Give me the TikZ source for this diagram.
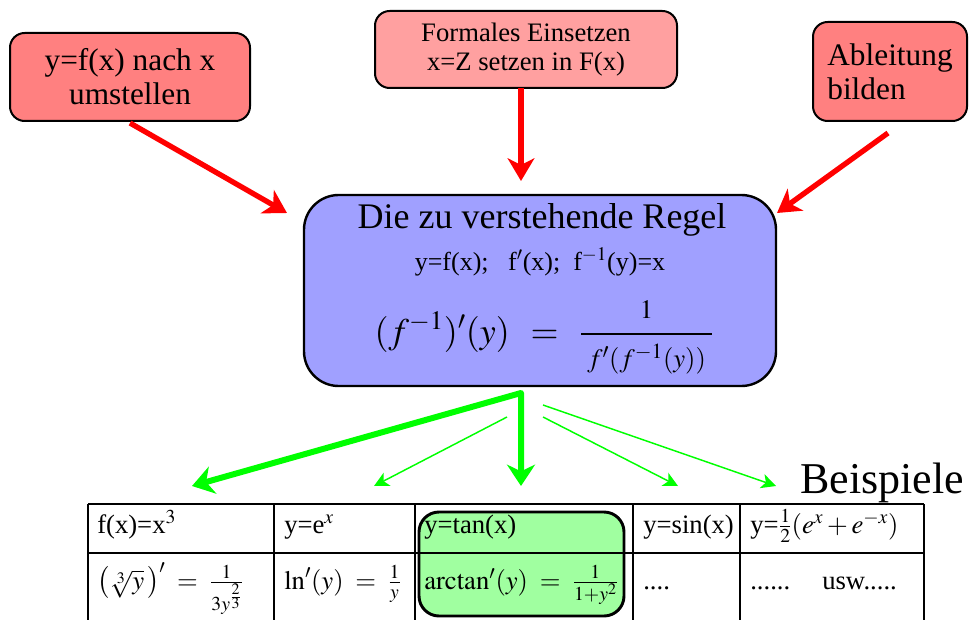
\documentclass[tikz,border=0pt]{standalone}
\usepackage{mathptmx}
\usepackage[no-math]{fontspec}
\setmainfont{Liberation Serif}
\usetikzlibrary{arrows.meta}
\definecolor{boxred}{RGB}{255,128,128}
\definecolor{boxpink}{RGB}{255,160,160}
\definecolor{boxblue}{RGB}{160,160,255}
\definecolor{boxgreen}{RGB}{160,255,160}
\definecolor{arrred}{RGB}{255,0,0}
\definecolor{arrgreen}{RGB}{0,255,0}
\newcommand{\fsz}[2]{\fontsize{#1pt}{#2pt}\selectfont}
\begin{document}
\begin{tikzpicture}[x=0.75pt,y=-0.75pt,
  topbox/.style={draw=black, line width=1.5pt, rounded corners=11pt, inner sep=0pt, align=center},
  redarrow/.style={draw=arrred, line width=4pt, -{Stealth[length=17pt,width=20pt,inset=5pt]}},
  greenthick/.style={draw=arrgreen, line width=4.5pt, line join=round,
     {Stealth[length=16pt,width=21pt,inset=5pt]}-{Stealth[length=16pt,width=21pt,inset=5pt]}},
  greenthin/.style={draw=arrgreen, line width=1.1pt, -{Stealth[length=11pt,width=11pt,inset=3pt]}},
  celltext/.style={anchor=base west, inner sep=0pt, font=\fsz{20}{24}},
  tableline/.style={draw=black, line width=0.8pt}]

\useasboundingbox (0,0) rectangle (969,620);

% top boxes
\node[topbox, fill=boxred, minimum width=180pt, minimum height=66pt, font=\fsz{23.5}{25.5}] (lbox) at (130,77) {y=f(x) nach x\\umstellen};
\node[topbox, fill=boxpink, minimum width=226.5pt, minimum height=57.75pt, font=\fsz{20}{21.75}] (tbox) at (526,49.5) {Formales Einsetzen\\x=Z setzen in F(x)};
\node[topbox, fill=boxred, minimum width=115.5pt, minimum height=74.25pt, font=\fsz{23.5}{25.5}, align=left] (rbox) at (890,71.5) {Ableitung\\bilden};

% central rule box
\node[draw=black, line width=1.8pt, fill=boxblue, rounded corners=26pt, minimum width=354pt, minimum height=143.25pt, inner sep=0pt] (rule) at (540,290.5) {};
\node[anchor=base, inner sep=0pt, font=\fsz{27}{30}] (title) at (542,228) {Die zu verstehende Regel};
\node[anchor=base, inner sep=0pt, font=\fsz{19.5}{22}] (sub) at (540,270) {y=f(x);\ \ \ f$'$(x);\ \ f$^{-1}$(y)=x};
\node[anchor=base, inner sep=0pt, font=\fsz{27}{30}] (formula) at (544,343) {$(f^{-1})'(y)\ \,=\ \,{\displaystyle\frac{\scriptstyle 1}{\scriptstyle \;f'(f^{-1}(y))\;}}$};

% red arrows
\coordinate (r1s) at (130,123);
\coordinate (r1e) at (287,213);
\coordinate (r2s) at (521,88);
\coordinate (r2e) at (521,181);
\coordinate (r3s) at (888,133);
\coordinate (r3e) at (777,213);
\draw[redarrow] (r1s) -- (r1e);
\draw[redarrow] (r2s) -- (r2e);
\draw[redarrow] (r3s) -- (r3e);

% green arrows
\coordinate (g0) at (521,393);
\coordinate (g1) at (192,486);
\coordinate (g2) at (521,486);
\draw[greenthick] (g1) -- (g0) -- (g2);
\coordinate (h1s) at (507,417);
\coordinate (h1e) at (374,486);
\coordinate (h2s) at (543,417);
\coordinate (h2e) at (678,486);
\coordinate (h3s) at (543,405);
\coordinate (h3e) at (776,486);
\draw[greenthin] (h1s) -- (h1e);
\draw[greenthin] (h2s) -- (h2e);
\draw[greenthin] (h3s) -- (h3e);

\node[anchor=base west, inner sep=0pt, font=\fsz{33}{38}] (bsp) at (800,493) {Beispiele};

% highlight box
\node[draw=black, line width=2.2pt, fill=boxgreen, rounded corners=15pt, minimum width=153.75pt, minimum height=78pt, inner sep=0pt] (hl) at (521.5,564) {};

% table
\draw[tableline] (88,504) -- (924,504);
\draw[tableline] (88,553) -- (924,553);
\foreach \xx in {88,274,415,633,740,924}
  \draw[tableline] (\xx,504) -- (\xx,620);

% cells row 1
\node[celltext] (c11) at (97,533) {f(x)=x$^3$};
\node[celltext] (c12) at (284,533) {y=e$^x$};
\node[celltext] (c13) at (424,533) {y=tan(x)};
\node[celltext] (c14) at (643,533) {y=sin(x)};
\node[celltext] (c15) at (750,533) {y=$\frac{1}{2}(e^x+e^{-x})$};
% cells row 2
\node[celltext] (c21) at (97,589) {$\left(\sqrt[3]{y}\,\right)'\;=\;\frac{1}{3y^{\frac{2}{3}}}$};
\node[celltext] (c22) at (284,589) {$\ln'(y)\;=\;\frac{1}{y}$};
\node[celltext] (c23) at (424,589) {$\arctan'(y)\;=\;\frac{1}{1+y^2}$};
\node[celltext] (c24) at (643,589) {....};
\node[celltext] (c25) at (750,589) {......\hspace{24pt}usw.....};
\end{tikzpicture}
\end{document}
